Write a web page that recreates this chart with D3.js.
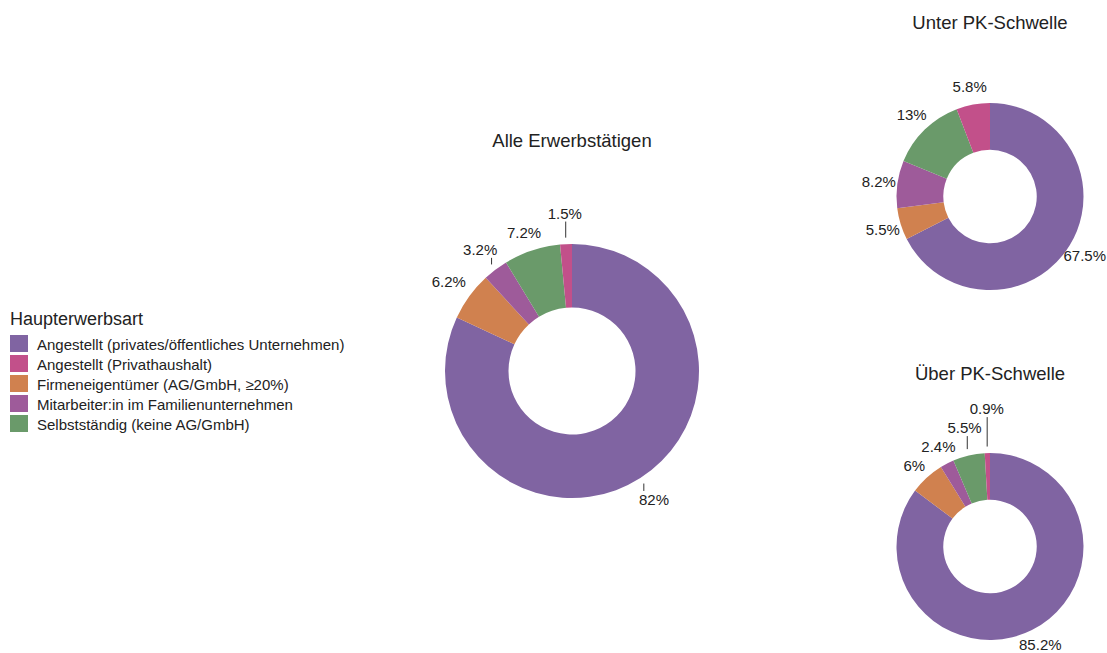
<!DOCTYPE html>
<html><head><meta charset="utf-8">
<script src="https://cdn.jsdelivr.net/npm/d3@7"></script>
<style>body{margin:0;background:#fff}svg{display:block;font-family:"Liberation Sans",Arial,sans-serif}</style>
</head><body><svg id="c" width="1107" height="653"></svg>
<script>
// ---- data ----
const legendTitle = "Haupterwerbsart";
const legendCategories = [
  "Angestellt (privates/öffentliches Unternehmen)",
  "Angestellt (Privathaushalt)",
  "Firmeneigentümer (AG/GmbH, ≥20%)",
  "Mitarbeiter:in im Familienunternehmen",
  "Selbstständig (keine AG/GmbH)"
];
// slice order as drawn clockwise from 12 o'clock
const sliceOrder = [
  "Angestellt (privates/öffentliches Unternehmen)",
  "Firmeneigentümer (AG/GmbH, ≥20%)",
  "Mitarbeiter:in im Familienunternehmen",
  "Selbstständig (keine AG/GmbH)",
  "Angestellt (Privathaushalt)"
];
const colors = ["#8064A2", "#C2508A", "#D0814F", "#9E5B9A", "#6A9A6A"];
const titles = ["Alle Erwerbstätigen", "Unter PK-Schwelle", "Über PK-Schwelle"];
const valuesAlle  = [82, 6.2, 3.2, 7.2, 1.5];
const valuesUnter = [67.5, 5.5, 8.2, 13, 5.8];
const valuesUeber = [85.2, 6, 2.4, 5.5, 0.9];

// ---- layout ----
const W = 1107, H = 653;
const svg = d3.select("#c");
const color = d3.scaleOrdinal().domain(legendCategories).range(colors);
const charts = [
  {title: titles[0], values: valuesAlle,  cx: 572, cy: 371,   r: 127,  ty: 147},
  {title: titles[1], values: valuesUnter, cx: 990, cy: 196.5, r: 93.5, ty: 29},
  {title: titles[2], values: valuesUeber, cx: 990, cy: 546.5, r: 93.5, ty: 380}
];
const fontSize = 15, boxH = 17, padX = 4, padY = 1;

charts.forEach(ch => {
  const data = sliceOrder.map((k, i) => ({key: k, value: ch.values[i]}));
  const pie = d3.pie().sort(null).value(d => d.value);
  const arcs = pie(data);
  const arc = d3.arc().innerRadius(ch.r * 0.5).outerRadius(ch.r);
  const g = svg.append("g").attr("transform", `translate(${ch.cx},${ch.cy})`);
  g.selectAll("path").data(arcs).join("path")
    .attr("d", arc).attr("fill", d => color(d.data.key));

  svg.append("text").attr("x", ch.cx).attr("y", ch.ty)
    .attr("text-anchor", "middle").attr("font-size", 18.5).attr("fill", "#222")
    .text(ch.title);

  // labels: placed at 1.2 r along the mid angle, then repelled vertically
  const labs = arcs.map(a => {
    const ang = (a.startAngle + a.endAngle) / 2;
    const s = Math.sin(ang), c = Math.cos(ang);
    const txt = a.data.value + "%";
    const t = g.append("text").attr("font-size", fontSize).attr("fill", "#222")
      .attr("text-anchor", "middle").attr("dominant-baseline", "central").text(txt);
    const w = t.node().getComputedTextLength();
    const R = ch.r * 1.2;
    let x = R * s;
    x = Math.max(-ch.cx + w / 2 + 1, Math.min(W - ch.cx - w / 2 - 1, x));
    return {t, s, c, w, h: boxH, x, y: -R * c};
  });
  const minDist = ch.r * 1.04;
  function boxDist(l) {
    const nx = Math.max(l.x - l.w / 2, Math.min(0, l.x + l.w / 2));
    const ny = Math.max(l.y - l.h / 2, Math.min(0, l.y + l.h / 2));
    return Math.hypot(nx, ny);
  }
  for (let it = 0; it < 400; it++) {
    for (let i = 0; i < labs.length; i++) for (let j = i + 1; j < labs.length; j++) {
      const A = labs[i], B = labs[j];
      const ox = (A.w + B.w) / 2 + 2 * padX - Math.abs(A.x - B.x);
      const oy = (A.h + B.h) / 2 + 2 * padY - Math.abs(A.y - B.y);
      if (ox > 0 && oy > 0) {
        const up = A.y < B.y ? A : B, dn = up === A ? B : A;
        up.y -= oy / 4; dn.y += oy / 4;
      }
    }
    labs.forEach(l => {
      if (Math.abs(l.s) > 0.8) return;
      let k = 0;
      while (boxDist(l) < minDist && k < 50) { l.y += (l.y < 0 ? -0.25 : 0.25); k++; }
    });
  }
  labs.forEach(l => {
    l.y = Math.max(-ch.cy + l.h / 2, Math.min(H - ch.cy - l.h / 2, l.y));
    l.t.attr("x", l.x).attr("y", l.y);
    // leader segment from just outside the arc to the nearest point of the label box
    const px = (ch.r + 6.5) * l.s, py = -(ch.r + 6.5) * l.c;
    const qx = Math.max(l.x - l.w / 2, Math.min(px, l.x + l.w / 2));
    const qy = Math.max(l.y - l.h / 2, Math.min(py, l.y + l.h / 2));
    if (Math.hypot(qx - px, qy - py) > 5) {
      g.append("line").attr("x1", px).attr("y1", py).attr("x2", qx).attr("y2", qy)
        .attr("stroke", "#333").attr("stroke-width", 1);
    }
  });
});

// legend
const lg = svg.append("g").attr("transform", "translate(10,0)");
lg.append("text").attr("x", 0).attr("y", 325).attr("font-size", 18).attr("fill", "#222").text(legendTitle);
const item = lg.selectAll("g.item").data(legendCategories).join("g")
  .attr("transform", (d, i) => `translate(0,${335 + i * 20})`);
item.append("rect").attr("width", 18).attr("height", 17).attr("fill", d => color(d));
item.append("text").attr("x", 27).attr("y", 9).attr("dominant-baseline", "central")
  .attr("font-size", 15).attr("fill", "#222").text(d => d);
</script></body></html>
